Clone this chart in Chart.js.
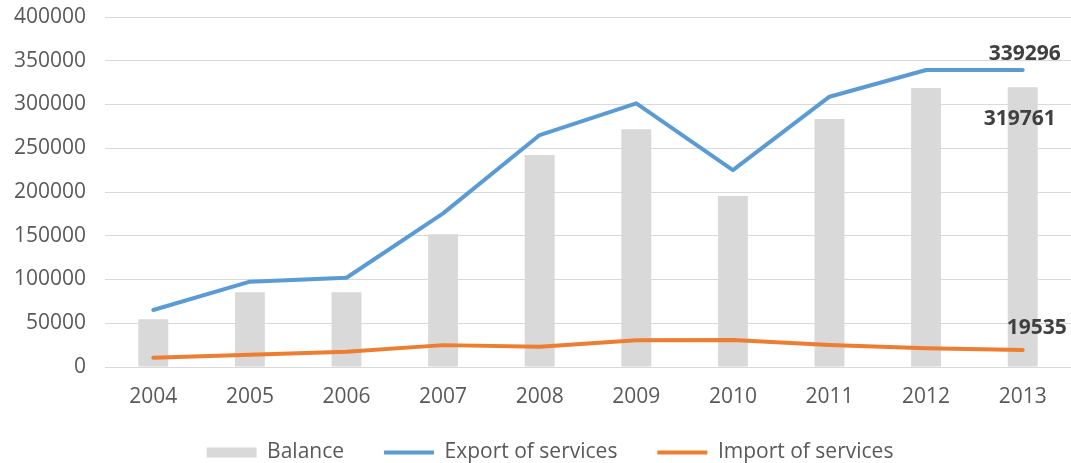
<!DOCTYPE html>
<html>
<head>
<meta charset="utf-8">
<script src="https://cdn.jsdelivr.net/npm/chart.js@4"></script>
<style>
  html, body { margin: 0; padding: 0; background: #fff; }
  #wrap { width: 1071px; height: 463px; position: relative; }
</style>
</head>
<body>
<div id="wrap"><canvas id="servicesChart"></canvas></div>
<script>
// services trade, 2004-2013
const years = ['2004','2005','2006','2007','2008','2009','2010','2011','2012','2013'];
const balance = [54500, 85400, 85400, 151700, 242300, 271600, 195400, 283400, 318900, 319761];
const exportServices = [65100, 97500, 102000, 175600, 265100, 301400, 225100, 308900, 339400, 339296];
const importServices = [10600, 14000, 17500, 25000, 23200, 30500, 30900, 25100, 21300, 19535];
const yTicks = [0, 50000, 100000, 150000, 200000, 250000, 300000, 350000, 400000];

const txt = '#595959';
const fontFamily = '"Open Sans", "Noto Sans", sans-serif';

// value labels on the last point of each series
const lastLabels = {
  id: 'lastLabels',
  afterDatasetsDraw(chart) {
    const ctx = chart.ctx;
    const spots = [
      {ds: 1, dx: 2, dy: -16},
      {ds: 0, dx: -3, dy: 32},
      {ds: 2, dx: 14, dy: -22}
    ];
    ctx.save();
    ctx.font = 'bold 21px ' + fontFamily;
    ctx.fillStyle = '#404040';
    ctx.textAlign = 'center';
    ctx.textBaseline = 'middle';
    spots.forEach(s => {
      const meta = chart.getDatasetMeta(s.ds);
      const el = meta.data[meta.data.length - 1];
      const vals = chart.data.datasets[s.ds].data;
      ctx.fillText(String(vals[vals.length - 1]), el.x + s.dx, el.y + s.dy);
    });
    ctx.restore();
  }
};

// legend keeps wide gaps between items but a short box, sitting a bit higher
const legendHeight = {
  id: 'legendHeight',
  beforeInit(chart) {
    const fit = chart.legend.fit;
    chart.legend.fit = function () {
      fit.call(this);
      this.height = 54;
    };
  },
  afterLayout(chart) {
    chart.legend.top -= 7;
    chart.legend.left += 8;
    chart.legend.right += 8;
  }
};

new Chart(document.getElementById('servicesChart'), {
  type: 'bar',
  data: {
    labels: years,
    datasets: [
      {
        type: 'bar',
        label: 'Balance',
        data: balance,
        backgroundColor: '#D9D9D9',
        barPercentage: 0.31,
        categoryPercentage: 1,
        pointStyle: 'rect',
        order: 2
      },
      {
        type: 'line',
        label: 'Export of services',
        data: exportServices,
        borderColor: '#5B9BD5',
        backgroundColor: '#5B9BD5',
        borderWidth: 4,
        borderCapStyle: 'round',
        borderJoinStyle: 'round',
        pointRadius: 0,
        pointStyle: 'line',
        tension: 0,
        order: 1
      },
      {
        type: 'line',
        label: 'Import of services',
        data: importServices,
        borderColor: '#ED7D31',
        backgroundColor: '#ED7D31',
        borderWidth: 4,
        borderCapStyle: 'round',
        borderJoinStyle: 'round',
        pointRadius: 0,
        pointStyle: 'line',
        tension: 0,
        order: 1
      }
    ]
  },
  options: {
    responsive: true,
    maintainAspectRatio: false,
    animation: false,
    layout: { padding: { top: 17, left: 13, right: 0, bottom: 0 } },
    scales: {
      x: {
        offset: true,
        grid: { display: false, drawTicks: false },
        border: { display: false },
        ticks: { color: txt, font: { family: fontFamily, size: 21 }, padding: 17 },
        afterFit: axis => { axis.paddingLeft = 0; axis.paddingRight = 0; axis.height = 42; }
      },
      y: {
        min: 0,
        max: 400000,
        afterBuildTicks: axis => { axis.ticks = yTicks.map(v => ({value: v})); },
        afterFit: axis => { axis.paddingTop = 0; axis.paddingBottom = 0; axis.width = 92; },
        grid: { color: '#D9D9D9', lineWidth: 1, drawTicks: false },
        border: { display: false },
        ticks: {
          color: txt,
          font: { family: fontFamily, size: 21 },
          padding: 19,
          callback: v => String(v)
        }
      }
    },
    plugins: {
      tooltip: { enabled: false },
      legend: {
        position: 'bottom',
        labels: {
          usePointStyle: true,
          pointStyleWidth: 50,
          boxHeight: 10,
          padding: 40,
          color: txt,
          font: { family: fontFamily, size: 21 },
          sort: (a, b) => a.datasetIndex - b.datasetIndex
        }
      }
    }
  },
  plugins: [lastLabels, legendHeight]
});
</script>
</body>
</html>
